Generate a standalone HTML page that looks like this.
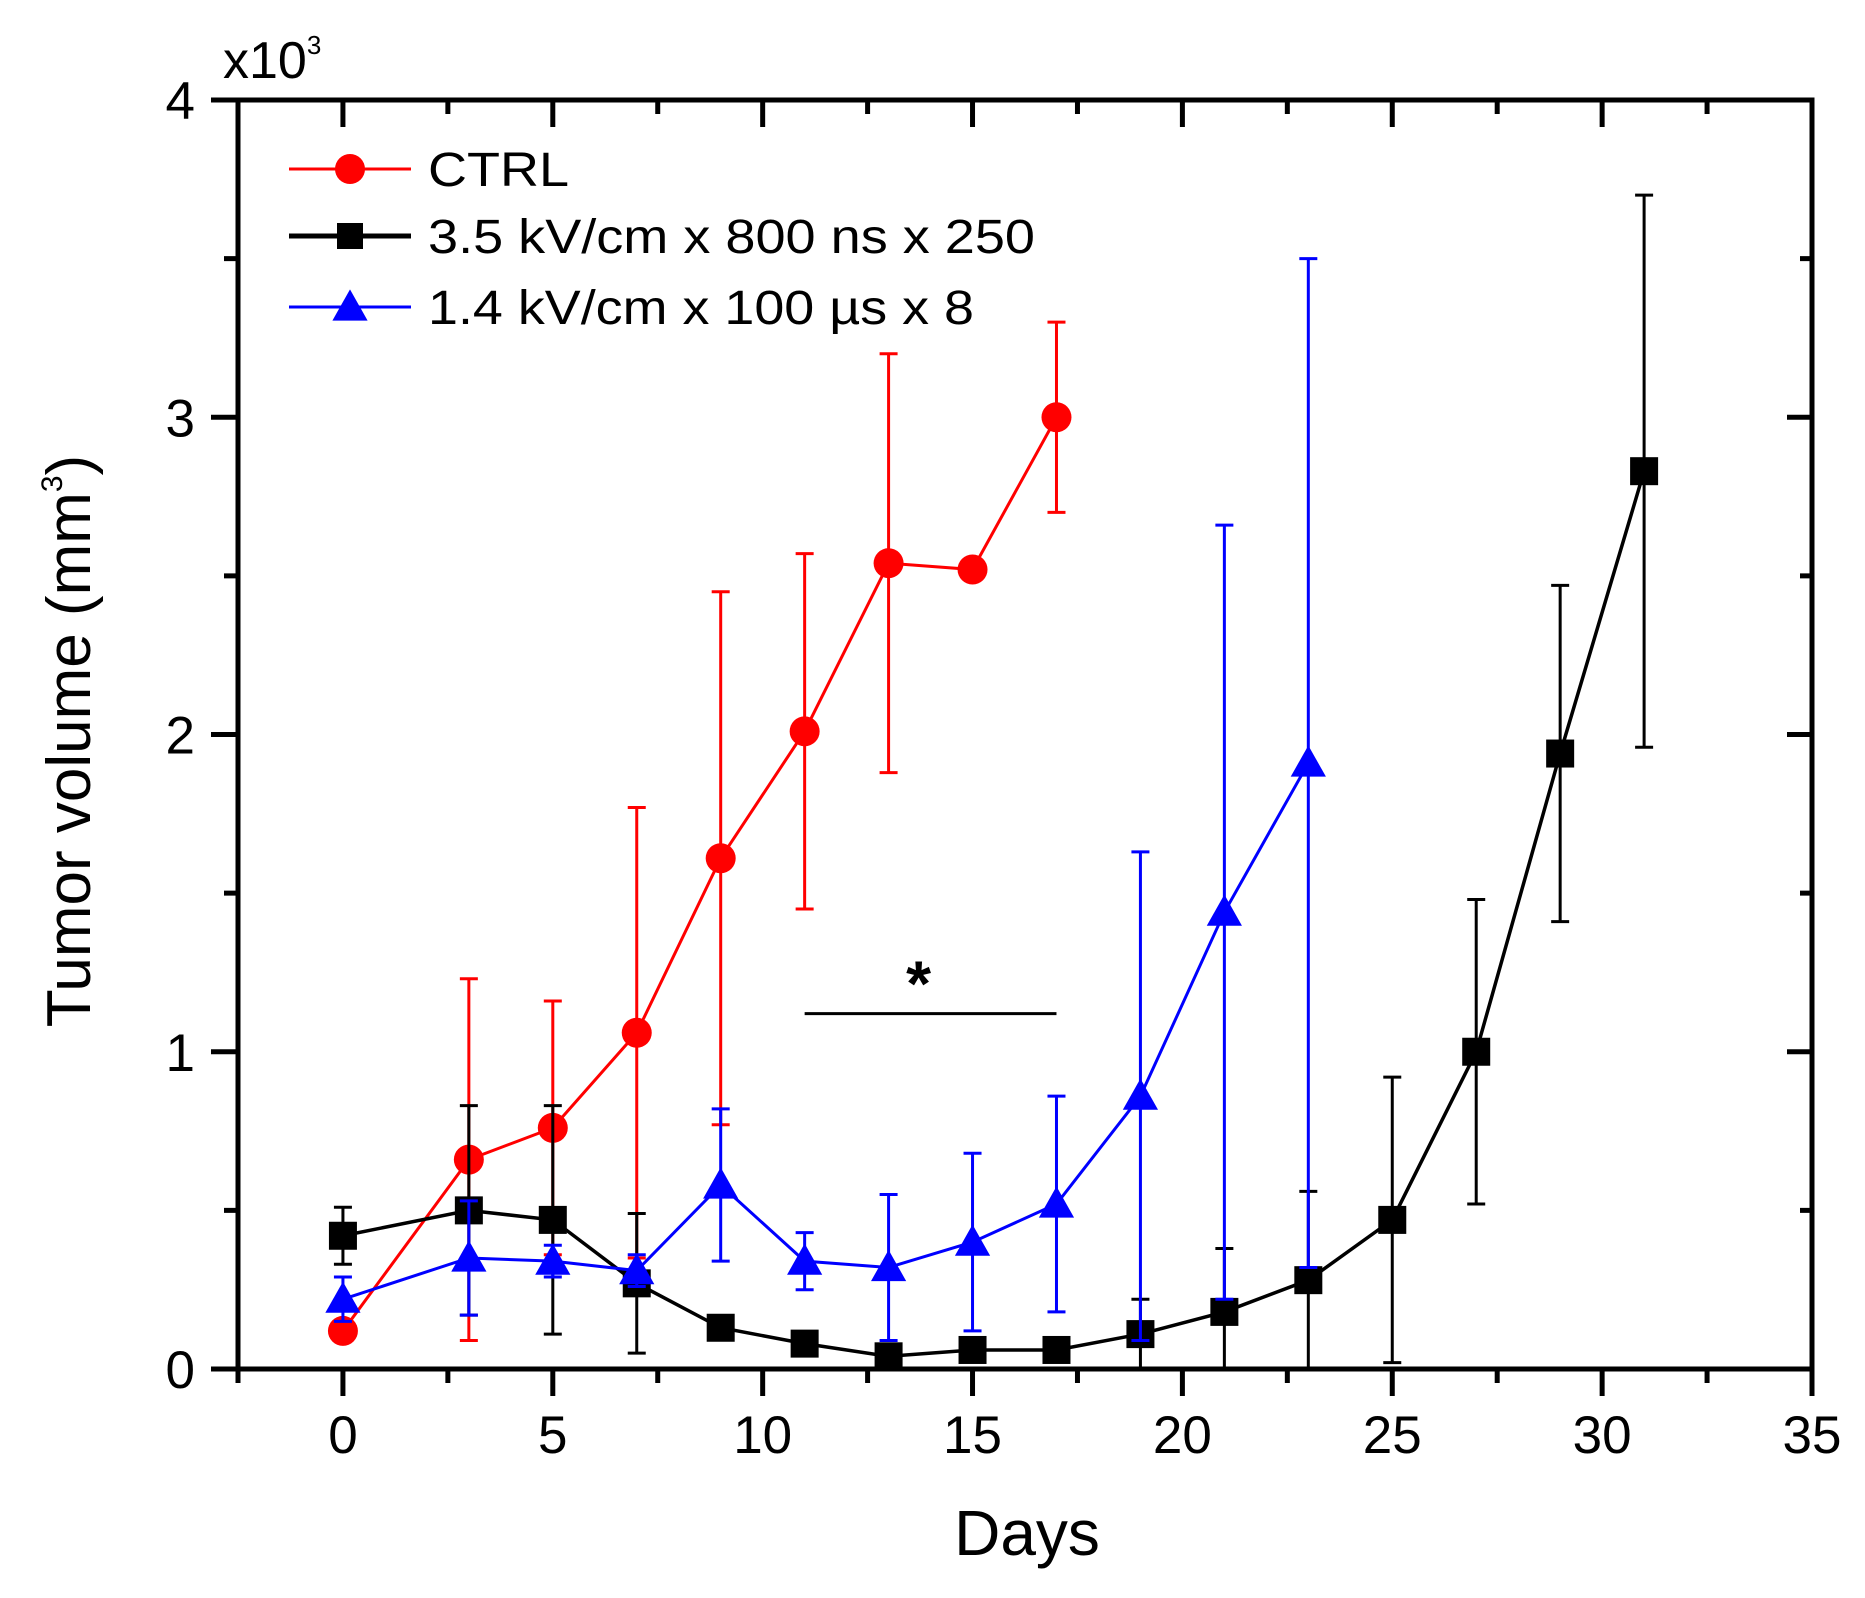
<!DOCTYPE html>
<html><head><meta charset="utf-8"><style>
html,body{margin:0;padding:0;background:#fff;}
svg{display:block;font-family:"Liberation Sans",Arial,sans-serif;}
</style></head><body>
<svg id="chart" width="1865" height="1598" viewBox="0 0 1865 1598" xmlns="http://www.w3.org/2000/svg">
<g id="axes"></g>
<g id="series"></g>
<g id="legend"></g>
</svg>
<script>
const ctrlDays=[0,3,5,7,9,11,13,15,17];
const ctrlVals=[0.12,0.66,0.76,1.06,1.61,2.01,2.54,2.52,3.00];
const ctrlErr=[0.02,0.57,0.40,0.71,0.84,0.56,0.66,0.02,0.30];
const blackDays=[0,3,5,7,9,11,13,15,17,19,21,23,25,27,29,31];
const blackVals=[0.42,0.50,0.47,0.27,0.13,0.08,0.04,0.06,0.06,0.11,0.18,0.28,0.47,1.00,1.94,2.83];
const blackErr=[0.09,0.33,0.36,0.22,0.02,0.02,0.02,0.02,0.02,0.11,0.20,0.28,0.45,0.48,0.53,0.87];
const blueDays=[0,3,5,7,9,11,13,15,17,19,21,23];
const blueVals=[0.22,0.35,0.34,0.31,0.58,0.34,0.32,0.40,0.52,0.86,1.44,1.91];
const blueErr=[0.07,0.18,0.05,0.05,0.24,0.09,0.23,0.28,0.34,0.77,1.22,1.59];
const xTicks=[0,5,10,15,20,25,30,35];
const yTicks=[0,1,2,3,4];
const sigRange=[11,17];
const sigLevel=1.12;

const NS='http://www.w3.org/2000/svg';
const X0=238,X1=1812,Y0=1369,Y1=100,XMIN=-2.5,XMAX=35,YMAX=4;
function sx(d){return X0+(d-XMIN)/(XMAX-XMIN)*(X1-X0);}
function sy(v){return Y0-v/YMAX*(Y0-Y1);}
function mk(parent,tag,attrs){const e=document.createElementNS(NS,tag);for(const k in attrs)e.setAttribute(k,attrs[k]);parent.appendChild(e);return e;}
const axes=document.getElementById('axes'),series=document.getElementById('series'),legend=document.getElementById('legend');

let fr=mk(axes,'rect',{x:X0,y:Y1,width:X1-X0,height:Y0-Y1,fill:'none',stroke:'#000','stroke-width':5});


for(let d=-2.5;d<=35.01;d+=2.5){
  const major=(d%5===0);const L=major?27:14;const x=sx(d);
  mk(axes,'line',{x1:x,y1:Y0,x2:x,y2:Y0+L,stroke:'#000','stroke-width':5});
  mk(axes,'line',{x1:x,y1:Y1,x2:x,y2:Y1+L,stroke:'#000','stroke-width':5});
}
xTicks.forEach(t=>{
  const tx=mk(axes,'text',{x:sx(t),y:1453,'font-size':53,'text-anchor':'middle',fill:'#000'});
  tx.textContent=t;
  
  
});
for(let v=0;v<=4.001;v+=0.5){
  const major=(v%1===0);const L=major?27:14;const y=sy(v);
  mk(axes,'line',{x1:X0-L,y1:y,x2:X0,y2:y,stroke:'#000','stroke-width':5});
  mk(axes,'line',{x1:X1-L+2,y1:y,x2:X1,y2:y,stroke:'#000','stroke-width':5});
}
yTicks.forEach(t=>{
  const tx=mk(axes,'text',{x:195,y:sy(t)+19,'font-size':53,'text-anchor':'end',fill:'#000'});
  tx.textContent=t;
  
  
});
let mult=mk(axes,'text',{x:223,y:78,'font-size':52,fill:'#000'});
mult.innerHTML='x10<tspan dy="-24" font-size="26">3</tspan>';


let xt=mk(axes,'text',{x:1027,y:1555,'font-size':64,'text-anchor':'middle',fill:'#000'});
xt.textContent='Days';


let yt=mk(axes,'text',{x:0,y:0,'font-size':62,'text-anchor':'middle',fill:'#000',transform:'translate(90,741) rotate(-90)'});
yt.innerHTML='Tumor volume (mm<tspan dy="-28" font-size="30">3</tspan><tspan dy="28">)</tspan>';



function marker(g,shape,cx,cy,color,size){
  if(shape==='circle')return mk(g,'circle',{cx:cx,cy:cy,r:size,fill:color});
  if(shape==='square')return mk(g,'rect',{x:cx-size,y:cy-size,width:2*size,height:2*size,fill:color});
  return mk(g,'polygon',{points:`${cx},${cy-size*1.1} ${cx-size*1.1},${cy+size*0.85} ${cx+size*1.1},${cy+size*0.85}`,fill:color});
}
function drawSeries(name,days,vals,errs,color,shape,size,lw){
  const g=mk(series,'g',{});
  
  
  days.forEach((d,i)=>{
    const x=sx(d),hi=sy(vals[i]+errs[i]),lo=sy(Math.max(0,vals[i]-errs[i]));
    const eb=mk(g,'path',{d:`M${x},${hi}V${lo}M${x-9},${hi}H${x+9}M${x-9},${lo}H${x+9}`,stroke:color,'stroke-width':3,fill:'none'});
    
    
  });
  const ln=mk(g,'polyline',{points:days.map((d,i)=>sx(d)+','+sy(vals[i])).join(' '),fill:'none',stroke:color,'stroke-width':lw});
  
  
  days.forEach((d,i)=>{
    const m=marker(g,shape,sx(d),sy(vals[i]),color,size);
    
    
  });
}
drawSeries('ctrl',ctrlDays,ctrlVals,ctrlErr,'#ff0000','circle',15,3);
drawSeries('nsep',blackDays,blackVals,blackErr,'#000000','square',14,3.5);
drawSeries('ire',blueDays,blueVals,blueErr,'#0000ff','triangle',16,3);

const sig=mk(series,'line',{x1:sx(sigRange[0]),y1:sy(sigLevel),x2:sx(sigRange[1]),y2:sy(sigLevel),stroke:'#000','stroke-width':3});


const st=mk(series,'text',{x:(sx(sigRange[0])+sx(sigRange[1]))/2-12,y:sy(sigLevel)-8,'font-size':64,'font-weight':'bold','text-anchor':'middle',fill:'#000'});
st.textContent='*';



const legendItems=[['CTRL','#ff0000','circle',15,169,141],['3.5 kV/cm x 800 ns x 250','#000','square',13,236,607],['1.4 kV/cm x 100 \u00b5s x 8','#0000ff','triangle',16,307,546]];
legendItems.forEach(([label,color,shape,size,y,w])=>{
  const g=mk(legend,'g',{});
  
  
  mk(g,'line',{x1:289,y1:y,x2:411,y2:y,stroke:color,'stroke-width':shape==='square'?5:3});
  marker(g,shape,350,y,color,size);
  const t=mk(g,'text',{x:428,y:y+17,'font-size':48,fill:'#000',textLength:w,lengthAdjust:'spacingAndGlyphs'});
  t.textContent=label;
});
</script>
</body></html>
